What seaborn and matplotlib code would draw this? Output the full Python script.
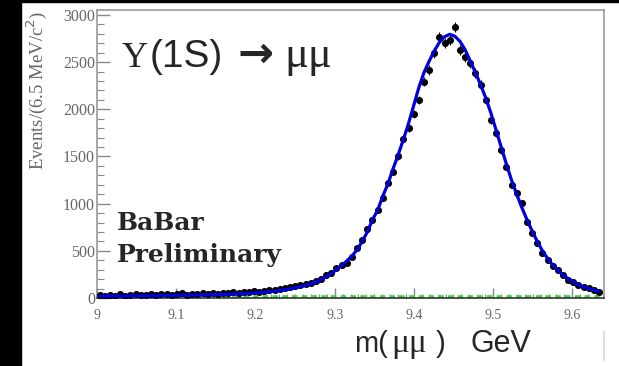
import numpy as np
import pandas as pd
import matplotlib
matplotlib.use('Agg')
import matplotlib.pyplot as plt
from matplotlib.lines import Line2D
from matplotlib.ticker import MultipleLocator
import seaborn as sns

# histogram: 6.5 MeV bins starting at 9.0 GeV
bin_start = 9.0
bin_width = 0.0065

counts = [30, 22, 35, 26, 38, 24, 33, 40, 28, 36,
          42, 30, 38, 45, 34, 41, 48, 37, 46, 40,
          50, 44, 53, 47, 58, 52, 60, 57, 66, 62,
          70, 68, 79, 82, 90, 98, 106, 115, 124, 138,
          147, 160, 182, 205, 240, 268, 318, 350, 371, 435,
          530, 615, 730, 830, 933, 1060, 1219, 1340, 1500, 1690,
          1800, 1950, 2100, 2290, 2417, 2598, 2768, 2704, 2736, 2874,
          2630, 2555, 2492, 2386, 2259, 2100, 1887, 1750, 1569, 1389,
          1198, 1113, 1007, 806, 689, 583, 477, 400, 340, 297,
          240, 191, 165, 138, 120, 106, 82, 64]

fit = [20, 20, 21, 21, 22, 22, 23, 23, 24, 24,
       25, 25, 26, 27, 27, 28, 29, 30, 31, 32,
       33, 34, 35, 37, 38, 40, 42, 44, 47, 50,
       53, 57, 61, 66, 72, 79, 87, 96, 107, 119,
       133, 150, 170, 195, 225, 260, 300, 345, 392, 445,
       510, 600, 700, 830, 930, 1080, 1210, 1370, 1520, 1680,
       1850, 2040, 2230, 2390, 2510, 2620, 2710, 2770, 2795, 2775,
       2720, 2630, 2510, 2390, 2260, 2120, 1960, 1780, 1600, 1420,
       1250, 1100, 960, 830, 710, 600, 500, 420, 350, 295,
       245, 205, 170, 140, 118, 100, 85, 72]

bkg_mass = [9.0, 9.64]
bkg_level = [10, 10]

mass = bin_start + bin_width * (np.arange(len(counts)) + 0.5)
df = pd.DataFrame({'mass': mass, 'counts': counts, 'fit': fit})

sns.set_style('white')
plt.rcParams['font.family'] = ['Liberation Serif', 'DejaVu Serif']

W, H = 619, 366
fig = plt.figure(figsize=(W / 100, H / 100), dpi=100)
fig.patches.append(plt.Rectangle((0, 0), 21 / W, 1, transform=fig.transFigure,
                                 color='black', zorder=0))
fig.patches.append(plt.Rectangle((21 / W, 1 - 2 / H), 1, 2 / H,
                                 transform=fig.transFigure, color='black', zorder=0))
fig.lines.append(Line2D([604 / W, 604 / W], [1 - 360 / H, 1 - 332 / H],
                        transform=fig.transFigure, color='#dddddd', lw=1.5))

ax = fig.add_axes([97 / W, 68 / H, 507 / W, 288 / H])

ax.plot(bkg_mass, bkg_level, color='#33dd33', lw=2.6, ls=(0, (1.5, 1.2)), zorder=2)
ax.errorbar(df['mass'], df['counts'], yerr=np.sqrt(df['counts']), fmt='none',
            ecolor='black', elinewidth=0.8, zorder=3)
sns.scatterplot(data=df, x='mass', y='counts', color='black', s=26,
                edgecolor='black', linewidth=0, ax=ax, zorder=3)
sns.lineplot(data=df, x='mass', y='fit', color='#0000dd', lw=2.3, ax=ax, zorder=4)

ax.set_xlim(9.0, 9.64)
ax.set_ylim(0, 3053)
ax.set_xlabel('')
ax.set_ylabel('Events/(6.5 MeV/c$^2$)', fontsize=13.5, color='#666666')
ax.yaxis.set_label_coords(-0.095, 0.72)

ax.xaxis.set_major_locator(MultipleLocator(0.1))
ax.xaxis.set_minor_locator(MultipleLocator(0.01))
ax.yaxis.set_major_locator(MultipleLocator(500))
ax.yaxis.set_minor_locator(MultipleLocator(100))
ax.tick_params(which='major', direction='in', length=9, width=1, color='#888888',
               labelsize=11.5, labelcolor='#666666')
ax.tick_params(which='minor', direction='in', length=5, width=0.8, color='#888888')
ax.tick_params(axis='y', which='major', pad=1.5)
ax.tick_params(axis='x', which='major', length=7, pad=8, labelsize=10)
ax.tick_params(axis='x', which='minor', length=3)
ax.tick_params(left=True, bottom=True, which='both')
ax.set_xticks([9.0, 9.1, 9.2, 9.3, 9.4, 9.5, 9.6])
ax.set_xticklabels(['9', '9.1', '9.2', '9.3', '9.4', '9.5', '9.6'])
for s in ax.spines.values():
    s.set_color('#999999')
    s.set_linewidth(1.2)
ax.spines['bottom'].set_color('#333333')


def put_row(base_px, pieces):
    # pieces: (left x in px, text, size, family, weight)
    for x, txt, size, fam, weight in pieces:
        fig.text(x / W, 1 - base_px / H, txt, fontsize=size, family=fam,
                 weight=weight, va='baseline')


put_row(67, [(122, 'Υ', 26, 'Liberation Serif', 'normal'),
             (150, '(1S)', 28, 'Liberation Sans', 'normal'),
             (237, '→', 31, 'DejaVu Sans', 'bold'),
             (284, 'μμ', 32, 'Liberation Serif', 'normal')])

fig.text(117 / W, 1 - 230 / H, 'BaBar', fontsize=18, family='DejaVu Serif',
         weight='bold', va='baseline')
fig.text(117 / W, 1 - 262 / H, 'Preliminary', fontsize=18, family='DejaVu Serif',
         weight='bold', va='baseline')

put_row(352, [(354, 'm(', 21, 'Liberation Sans', 'normal'),
              (391, 'μμ', 24, 'Liberation Serif', 'normal'),
              (436, ')', 21, 'Liberation Sans', 'normal'),
              (471, 'GeV', 22, 'Liberation Sans', 'normal')])

fig.savefig('out.png', dpi=100, facecolor='white')
